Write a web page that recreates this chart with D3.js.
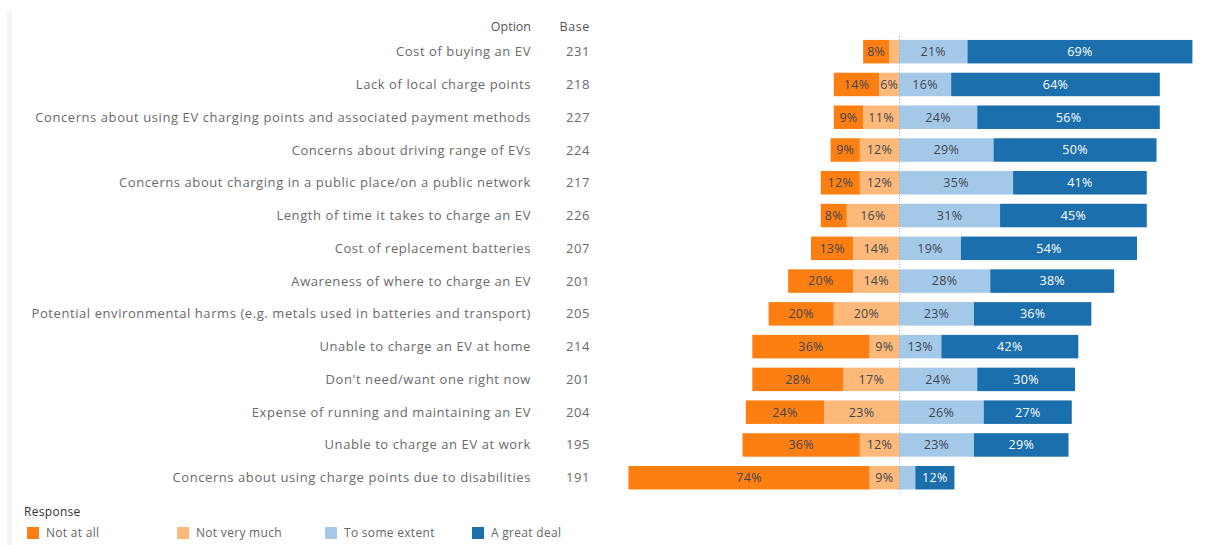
<!DOCTYPE html>
<html>
<head>
<meta charset="utf-8">
<script src="https://cdn.jsdelivr.net/npm/d3@7"></script>
<style>
  html, body { margin: 0; padding: 0; background: #ffffff; }
  svg { display: block; }
  text { font-family: "Open Sans", "DejaVu Sans", sans-serif; }
</style>
</head>
<body>
<div id="chart"></div>
<script>
// Barriers to buying an electric vehicle, by how much each one matters
const options = [
  "Cost of buying an EV",
  "Lack of local charge points",
  "Concerns about using EV charging points and associated payment methods",
  "Concerns about driving range of EVs",
  "Concerns about charging in a public place/on a public network",
  "Length of time it takes to charge an EV",
  "Cost of replacement batteries",
  "Awareness of where to charge an EV",
  "Potential environmental harms (e.g. metals used in batteries and transport)",
  "Unable to charge an EV at home",
  "Don't need/want one right now",
  "Expense of running and maintaining an EV",
  "Unable to charge an EV at work",
  "Concerns about using charge points due to disabilities"
];
const bases = [231, 218, 227, 224, 217, 226, 207, 201, 205, 214, 201, 204, 195, 191];

// Percentage of respondents per response level
const notAtAll      = [8, 14, 9, 9, 12, 8, 13, 20, 20, 36, 28, 24, 36, 74];
const notVeryMuch   = [3, 6, 11, 12, 12, 16, 14, 14, 20, 9, 17, 23, 12, 9];
const toSomeExtent  = [21, 16, 24, 29, 35, 31, 19, 28, 23, 13, 24, 26, 23, 5];
const aGreatDeal    = [69, 64, 56, 50, 41, 45, 54, 38, 36, 42, 30, 27, 29, 12];

const responses = ["Not at all", "Not very much", "To some extent", "A great deal"];
const colors = ["#fd7f12", "#fdb97a", "#a4c9e8", "#1b6fad"];

const W = 1230, H = 545;
const svg = d3.select("#chart").append("svg").attr("width", W).attr("height", H);

// faint frame edge on the left
svg.append("rect").attr("x", 7).attr("y", 11).attr("width", 5).attr("height", H - 11)
  .attr("fill", "#f3f3f3");

const x = d3.scaleLinear().domain([-85, 100]).range([621.9, 1225]);
const y = d3.scaleBand().domain(options).range([35.3, 494.1])
  .paddingInner(0.283).paddingOuter(0.1415);

const color = d3.scaleOrdinal().domain(responses).range(colors);

// Build segment list: negative side stacks outwards from zero, positive side likewise
const segments = [];
options.forEach((opt, i) => {
  const a = notAtAll[i], b = notVeryMuch[i], c = toSomeExtent[i], d = aGreatDeal[i];
  segments.push({ opt, key: responses[0], v: a, x0: -(a + b), x1: -b });
  segments.push({ opt, key: responses[1], v: b, x0: -b, x1: 0 });
  segments.push({ opt, key: responses[2], v: c, x0: 0, x1: c });
  segments.push({ opt, key: responses[3], v: d, x0: c, x1: c + d });
});

const g = svg.append("g");
g.selectAll("rect.seg").data(segments).join("rect")
  .attr("class", "seg")
  .attr("x", d => x(d.x0))
  .attr("y", d => y(d.opt))
  .attr("width", d => x(d.x1) - x(d.x0))
  .attr("height", y.bandwidth())
  .attr("fill", d => color(d.key));

// zero reference line
svg.append("line")
  .attr("x1", x(0) + 0.5).attr("x2", x(0) + 0.5)
  .attr("y1", 36).attr("y2", 494)
  .attr("stroke", "#b0b0b0").attr("stroke-width", 1)
  .attr("stroke-dasharray", "1,2");

// value labels inside segments
g.selectAll("text.val").data(segments.filter(d => d.v > 5)).join("text")
  .attr("class", "val")
  .attr("x", d => (x(d.x0) + x(d.x1)) / 2)
  .attr("y", d => y(d.opt) + y.bandwidth() / 2)
  .attr("dy", "0.35em")
  .attr("text-anchor", "middle")
  .attr("font-size", 12.5)
  .attr("letter-spacing", 0.3)
  .attr("fill", d => d.key === "A great deal" ? "#ffffff" : "#3f4650")
  .text(d => d.v + "%");

// row headers
const labelX = 531, baseX = 590;
svg.append("text").attr("x", labelX).attr("y", 27).attr("dy", "0.35em")
  .attr("text-anchor", "end").attr("font-size", 12.5).attr("fill", "#555")
  .text("Option");
svg.append("text").attr("x", baseX).attr("y", 27).attr("dy", "0.35em")
  .attr("text-anchor", "end").attr("font-size", 12.5).attr("letter-spacing", 0.6)
  .attr("fill", "#555")
  .text("Base");

svg.selectAll("text.opt").data(options).join("text")
  .attr("class", "opt")
  .attr("x", labelX)
  .attr("y", d => y(d) + y.bandwidth() / 2)
  .attr("dy", "0.35em")
  .attr("text-anchor", "end")
  .attr("font-size", 13)
  .attr("letter-spacing", 0.58)
  .attr("fill", "#6a6a6a")
  .text(d => d);

svg.selectAll("text.base").data(bases).join("text")
  .attr("class", "base")
  .attr("x", baseX)
  .attr("y", (d, i) => y(options[i]) + y.bandwidth() / 2)
  .attr("dy", "0.35em")
  .attr("text-anchor", "end")
  .attr("font-size", 13)
  .attr("letter-spacing", 0.58)
  .attr("fill", "#6a6a6a")
  .text(d => d);

// legend
const legend = svg.append("g");
legend.append("text").attr("x", 24).attr("y", 512).attr("dy", "0.35em")
  .attr("font-size", 12).attr("letter-spacing", 0.3).attr("fill", "#333").text("Response");
const legendX = [27, 177, 325, 472];
const item = legend.selectAll("g.item").data(responses).join("g")
  .attr("class", "item")
  .attr("transform", (d, i) => `translate(${legendX[i]},527)`);
item.append("rect").attr("width", 12).attr("height", 12).attr("fill", d => color(d));
item.append("text").attr("x", 19).attr("y", 6).attr("dy", "0.35em")
  .attr("font-size", 12).attr("letter-spacing", 0.3).attr("fill", "#666").text(d => d);
</script>
</body>
</html>
